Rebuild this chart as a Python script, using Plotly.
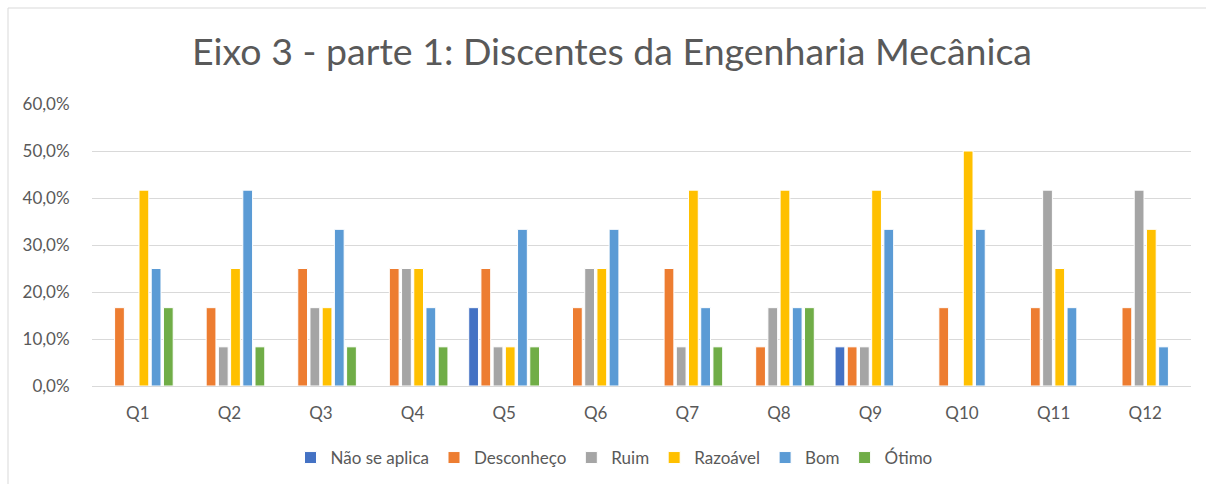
import plotly.graph_objects as go

questions = ["Q1", "Q2", "Q3", "Q4", "Q5", "Q6", "Q7", "Q8", "Q9", "Q10", "Q11", "Q12"]
series_names = ["Não se aplica", "Desconheço", "Ruim", "Razoável", "Bom", "Ótimo"]
colors = ["#4472C4", "#ED7D31", "#A5A5A5", "#FFC000", "#5B9BD5", "#70AD47"]

# share of responses (12 respondents) per answer option
nao_se_aplica = [0, 0, 0, 0, 1/6, 0, 0, 0, 1/12, 0, 0, 0]
desconheco = [1/6, 1/6, 1/4, 1/4, 1/4, 1/6, 1/4, 1/12, 1/12, 1/6, 1/6, 1/6]
ruim = [0, 1/12, 1/6, 1/4, 1/12, 1/4, 1/12, 1/6, 1/12, 0, 5/12, 5/12]
razoavel = [5/12, 1/4, 1/6, 1/4, 1/12, 1/4, 5/12, 5/12, 5/12, 1/2, 1/4, 1/3]
bom = [1/4, 5/12, 1/3, 1/6, 1/3, 1/3, 1/6, 1/6, 1/3, 1/3, 1/6, 1/12]
otimo = [1/6, 1/12, 1/12, 1/12, 1/12, 0, 1/12, 1/6, 0, 0, 0, 0]

values = [nao_se_aplica, desconheco, ruim, razoavel, bom, otimo]

font_family = "Lato, 'Open Sans', sans-serif"
text_color = "#595959"

fig = go.Figure()
for name, vals, col in zip(series_names, values, colors):
    fig.add_trace(go.Bar(
        x=questions, y=vals, name=name,
        marker=dict(color=col, line=dict(color="white", width=1)),
    ))

L, R, T, B = 92, 15, 104, 98
W, H = 1206, 484
pw, ph = W - L - R, H - T - B

def px_x(x):
    return (x - L) / pw

def px_y(y):
    return (H - B - y) / ph

fig.update_layout(
    width=W, height=H,
    margin=dict(l=L, r=R, t=T, b=B, autoexpand=False),
    paper_bgcolor="white", plot_bgcolor="white",
    separators=", ",
    barmode="group", bargap=0.2, bargroupgap=0.2,
    font=dict(family=font_family, color=text_color, size=17),
    title=dict(text="Eixo 3 - parte 1: Discentes da Engenharia Mecânica",
               x=612 / W, xref="container", xanchor="center",
               y=1 - 52 / H, yanchor="middle",
               font=dict(size=37.5, color=text_color, family=font_family)),
    xaxis=dict(showgrid=False, showline=True, linecolor="#d9d9d9", linewidth=1,
               ticks="outside", ticklen=12, tickcolor="rgba(0,0,0,0)",
               automargin=False,
               tickfont=dict(size=17, color=text_color)),
    yaxis=dict(range=[0, 0.6], dtick=0.1, tickformat=".1%",
               showgrid=True, gridcolor="#d9d9d9", gridwidth=1,
               zeroline=False, showline=False,
               ticks="outside", ticklen=18, tickcolor="rgba(0,0,0,0)",
               automargin=False,
               tickfont=dict(size=17, color=text_color)),
    legend=dict(orientation="h", x=px_x(614), xanchor="center",
                y=px_y(458), yanchor="middle",
                font=dict(size=17, color=text_color),
                itemwidth=30, traceorder="normal"),
    shapes=[
        dict(type="line", xref="paper", yref="paper",
             x0=px_x(8), x1=px_x(W), y0=px_y(8), y1=px_y(8),
             line=dict(color="#d9d9d9", width=1)),
        dict(type="line", xref="paper", yref="paper",
             x0=px_x(8), x1=px_x(8), y0=px_y(8), y1=px_y(H),
             line=dict(color="#d9d9d9", width=1)),
    ],
)

fig.write_html("out.html")
